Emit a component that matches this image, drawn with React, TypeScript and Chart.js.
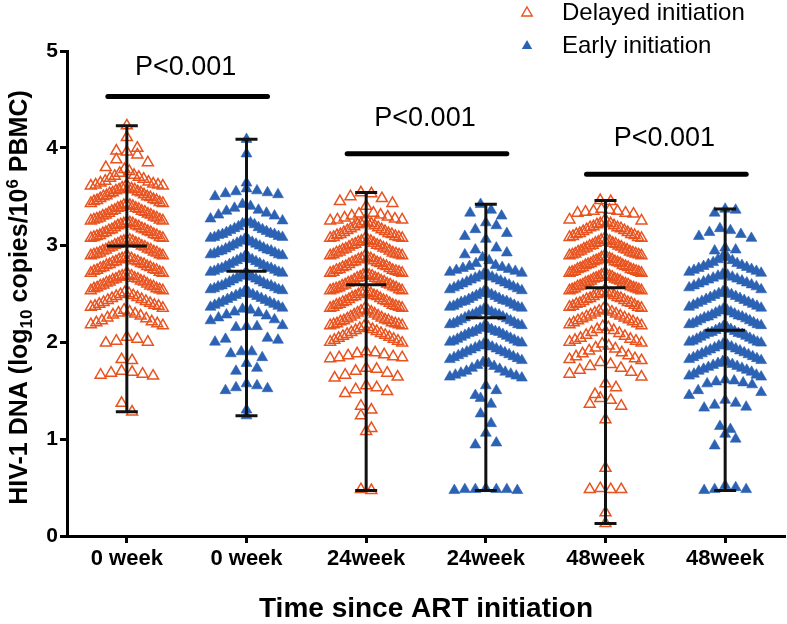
import { useEffect, useRef } from 'react';
import { Chart, registerables } from 'chart.js';

Chart.register(...registerables);

// ---------------- data ----------------
const CATEGORIES = ['0 week', '0 week', '24week', '24week', '48week', '48week'];
const SERIES_NAMES = ['Delayed initiation', 'Early initiation'];
const GROUP_SERIES = [0, 1, 0, 1, 0, 1];
const X_TITLE = 'Time since ART initiation';

const delayed0w = [
  4.23, 4.11, 4.00, 3.97, 3.96, 3.93, 3.88, 3.85, 3.80, 3.78, 3.76,
  3.74, 3.72, 3.71, 3.70, 3.69, 3.68, 3.66, 3.65, 3.64, 3.63, 3.62, 3.62, 3.61, 3.61,
  3.60, 3.59, 3.59, 3.58, 3.57, 3.57, 3.56, 3.55, 3.54, 3.54, 3.53, 3.52, 3.51, 3.50, 3.50, 3.49, 3.48, 3.47, 3.46, 3.46, 3.45, 3.44, 3.43, 3.43,
  3.42, 3.41, 3.41, 3.40, 3.39, 3.38, 3.38, 3.37, 3.36, 3.35, 3.35, 3.34, 3.33, 3.32, 3.31, 3.31, 3.30, 3.29, 3.28, 3.28, 3.27, 3.26, 3.26, 3.25, 3.25,
  3.24, 3.23, 3.22, 3.22, 3.21, 3.20, 3.20, 3.19, 3.18, 3.17, 3.16, 3.16, 3.15, 3.14, 3.13, 3.13, 3.12, 3.11, 3.10, 3.10, 3.09, 3.08, 3.08, 3.07, 3.07,
  3.05, 3.05, 3.04, 3.04, 3.03, 3.02, 3.01, 3.01, 3.00, 2.99, 2.98, 2.98, 2.97, 2.96, 2.95, 2.95, 2.94, 2.93, 2.92, 2.92, 2.91, 2.90, 2.90, 2.89, 2.89,
  2.87, 2.87, 2.86, 2.86, 2.85, 2.84, 2.83, 2.83, 2.82, 2.81, 2.80, 2.80, 2.79, 2.78, 2.77, 2.77, 2.76, 2.75, 2.74, 2.74, 2.73, 2.72, 2.71, 2.71,
  2.69, 2.69, 2.68, 2.68, 2.67, 2.66, 2.65, 2.65, 2.64, 2.63, 2.62, 2.62, 2.61, 2.60, 2.59, 2.58, 2.58, 2.57, 2.56, 2.55, 2.55, 2.54, 2.53, 2.53,
  2.51, 2.50, 2.49, 2.48, 2.47, 2.46, 2.45, 2.44, 2.43, 2.42, 2.41, 2.40, 2.39, 2.38, 2.37, 2.37, 2.36, 2.35,
  2.33, 2.31, 2.30, 2.29, 2.28, 2.27, 2.25, 2.24, 2.22, 2.21, 2.20, 2.19, 2.18, 2.17,
  2.05, 2.03, 2.01, 2.00, 1.99,
  1.82, 1.81,
  1.70, 1.69, 1.68, 1.67, 1.66, 1.65,
  1.37, 1.28,
];

const early0w = [
  4.09, 3.94, 3.64, 3.58, 3.56, 3.55, 3.54, 3.53, 3.52, 3.50,
  3.42, 3.40, 3.38, 3.36, 3.35, 3.33, 3.31, 3.30, 3.27, 3.25,
  3.24, 3.23, 3.22, 3.21, 3.19, 3.18, 3.17, 3.16, 3.15, 3.14, 3.13, 3.12, 3.11, 3.11, 3.10, 3.09, 3.08, 3.08, 3.07,
  3.06, 3.05, 3.04, 3.03, 3.02, 3.01, 3.00, 2.99, 2.98, 2.97, 2.96, 2.95, 2.94, 2.94, 2.93, 2.92, 2.91, 2.90, 2.90, 2.89,
  2.88, 2.87, 2.86, 2.85, 2.84, 2.83, 2.82, 2.81, 2.80, 2.79, 2.78, 2.77, 2.76, 2.76, 2.75, 2.74, 2.73, 2.72, 2.72, 2.71,
  2.70, 2.69, 2.68, 2.67, 2.66, 2.65, 2.64, 2.63, 2.62, 2.61, 2.60, 2.59, 2.58, 2.58, 2.57, 2.56, 2.55, 2.54, 2.54, 2.53,
  2.52, 2.51, 2.50, 2.49, 2.48, 2.47, 2.46, 2.45, 2.44, 2.43, 2.42, 2.41, 2.40, 2.39, 2.38, 2.37, 2.36, 2.35,
  2.34, 2.33, 2.31, 2.30, 2.28, 2.27, 2.25, 2.23, 2.22, 2.17, 2.16, 2.16,
  2.15, 2.04, 2.03, 2.02, 2.00,
  1.90, 1.90, 1.88, 1.84, 1.78, 1.73, 1.70,
  1.57, 1.55, 1.53, 1.52, 1.50,
  1.30, 1.24,
];

const delayed24w = [
  3.54, 3.53, 3.50, 3.48, 3.45, 3.43,
  3.40, 3.33, 3.32, 3.31, 3.30, 3.29, 3.28, 3.27, 3.26, 3.26, 3.25,
  3.24, 3.23, 3.22, 3.22, 3.21, 3.20, 3.19, 3.18, 3.17, 3.16, 3.15, 3.14, 3.13, 3.12, 3.11, 3.11, 3.10, 3.09, 3.08, 3.08, 3.07, 3.07,
  3.06, 3.05, 3.04, 3.04, 3.03, 3.02, 3.01, 3.00, 3.00, 2.99, 2.98, 2.97, 2.96, 2.96, 2.95, 2.94, 2.93, 2.92, 2.92, 2.91, 2.90, 2.90, 2.89, 2.89,
  2.88, 2.87, 2.86, 2.86, 2.85, 2.84, 2.83, 2.82, 2.82, 2.81, 2.80, 2.79, 2.78, 2.78, 2.77, 2.76, 2.75, 2.74, 2.74, 2.73, 2.72, 2.72, 2.71, 2.71,
  2.70, 2.69, 2.69, 2.68, 2.67, 2.66, 2.66, 2.65, 2.64, 2.63, 2.62, 2.62, 2.61, 2.60, 2.59, 2.59, 2.58, 2.57, 2.56, 2.56, 2.55, 2.54, 2.54, 2.53, 2.53,
  2.52, 2.51, 2.51, 2.50, 2.49, 2.48, 2.47, 2.47, 2.46, 2.45, 2.44, 2.43, 2.42, 2.42, 2.41, 2.40, 2.39, 2.38, 2.38, 2.37, 2.36, 2.36, 2.35, 2.35,
  2.34, 2.33, 2.32, 2.31, 2.30, 2.29, 2.28, 2.27, 2.26, 2.25, 2.24, 2.23, 2.22, 2.22, 2.21, 2.20, 2.19, 2.19, 2.18, 2.18, 2.17, 2.17,
  2.16, 2.15, 2.14, 2.13, 2.12, 2.11, 2.10, 2.09, 2.08, 2.07, 2.06, 2.05, 2.04, 2.03, 2.02, 2.01, 2.00, 1.99,
  1.90, 1.89, 1.88, 1.87, 1.86, 1.85, 1.84, 1.84, 1.83,
  1.73, 1.72, 1.70, 1.68, 1.66, 1.64, 1.63,
  1.55, 1.53, 1.51, 1.49, 1.47,
  1.34, 1.30, 1.24,
  1.11, 1.08,
  0.48, 0.47,
];

const early24w = [
  3.42, 3.36, 3.33, 3.30,
  3.23, 3.20, 3.16, 3.12, 3.09, 3.06,
  2.97, 2.95, 2.92, 2.90,
  2.87, 2.84, 2.81, 2.79, 2.78, 2.77, 2.76, 2.75, 2.74, 2.73, 2.72, 2.71,
  2.70, 2.69, 2.68, 2.67, 2.66, 2.65, 2.64, 2.63, 2.62, 2.61, 2.60, 2.59, 2.58, 2.57, 2.56, 2.55, 2.54, 2.53,
  2.52, 2.51, 2.50, 2.49, 2.48, 2.47, 2.46, 2.45, 2.44, 2.43, 2.42, 2.42, 2.41, 2.40, 2.39, 2.38, 2.37, 2.36, 2.36, 2.35,
  2.34, 2.33, 2.32, 2.31, 2.30, 2.29, 2.28, 2.28, 2.27, 2.26, 2.25, 2.24, 2.23, 2.22, 2.21, 2.20, 2.19, 2.18, 2.18, 2.17,
  2.16, 2.15, 2.14, 2.13, 2.12, 2.11, 2.10, 2.10, 2.09, 2.08, 2.07, 2.06, 2.05, 2.04, 2.03, 2.02, 2.01, 2.00, 2.00, 1.99,
  1.98, 1.97, 1.96, 1.95, 1.94, 1.93, 1.92, 1.91, 1.90, 1.89, 1.88, 1.87, 1.86, 1.85, 1.84, 1.83, 1.82, 1.81,
  1.79, 1.78, 1.76, 1.75, 1.73, 1.72, 1.70, 1.69, 1.68, 1.67, 1.66, 1.65, 1.64, 1.63,
  1.55, 1.50, 1.45, 1.42, 1.36, 1.26, 1.16, 1.06, 0.96, 0.94,
  0.49, 0.48, 0.48, 0.48, 0.48, 0.47, 0.47,
];

const delayed48w = [
  3.46, 3.45,
  3.37, 3.36, 3.35, 3.35, 3.34, 3.33, 3.33, 3.32, 3.26, 3.25,
  3.24, 3.23, 3.22, 3.22, 3.21, 3.20, 3.19, 3.18, 3.18, 3.17, 3.16, 3.15, 3.14, 3.13, 3.12, 3.11, 3.11, 3.10, 3.09, 3.08, 3.08, 3.07,
  3.06, 3.05, 3.05, 3.04, 3.03, 3.02, 3.02, 3.01, 3.00, 2.99, 2.99, 2.98, 2.97, 2.96, 2.96, 2.95, 2.94, 2.93, 2.93, 2.92, 2.91, 2.91, 2.90, 2.90, 2.89, 2.89,
  2.88, 2.87, 2.87, 2.86, 2.85, 2.85, 2.84, 2.83, 2.83, 2.82, 2.81, 2.81, 2.80, 2.79, 2.79, 2.78, 2.77, 2.77, 2.76, 2.75, 2.75, 2.74, 2.73, 2.73, 2.72, 2.72, 2.71, 2.71,
  2.70, 2.69, 2.69, 2.68, 2.67, 2.67, 2.66, 2.65, 2.65, 2.64, 2.63, 2.63, 2.62, 2.61, 2.61, 2.60, 2.59, 2.59, 2.58, 2.57, 2.57, 2.56, 2.55, 2.55, 2.54, 2.54, 2.53, 2.53,
  2.52, 2.51, 2.50, 2.50, 2.49, 2.48, 2.47, 2.46, 2.45, 2.45, 2.44, 2.43, 2.42, 2.41, 2.40, 2.40, 2.39, 2.38, 2.37, 2.36, 2.36, 2.35,
  2.34, 2.33, 2.32, 2.31, 2.30, 2.29, 2.28, 2.27, 2.26, 2.25, 2.24, 2.23, 2.22, 2.21, 2.20, 2.19, 2.18, 2.17,
  2.16, 2.15, 2.13, 2.12, 2.10, 2.09, 2.07, 2.06, 2.04, 2.03, 2.02, 2.01, 2.00, 1.99,
  1.98, 1.96, 1.94, 1.93, 1.91, 1.89, 1.88, 1.86, 1.85, 1.83, 1.82, 1.81,
  1.79, 1.77, 1.75, 1.73, 1.71, 1.69, 1.67, 1.64,
  1.57, 1.53, 1.46,
  1.42, 1.40, 1.36, 1.34,
  1.20, 0.70, 0.49, 0.48, 0.48, 0.48, 0.24, 0.13,
];

const early48w = [
  3.37, 3.36, 3.33,
  3.17, 3.15, 3.13, 3.11, 3.09, 3.07,
  2.97, 2.95, 2.94,
  2.88, 2.87, 2.85, 2.84, 2.82, 2.81, 2.80, 2.79, 2.78, 2.77, 2.76, 2.75, 2.74, 2.73, 2.72, 2.71,
  2.70, 2.69, 2.68, 2.67, 2.66, 2.65, 2.64, 2.63, 2.62, 2.61, 2.60, 2.59, 2.58, 2.57, 2.56, 2.54,
  2.52, 2.51, 2.50, 2.49, 2.48, 2.47, 2.46, 2.45, 2.44, 2.43, 2.42, 2.41, 2.40, 2.39, 2.38, 2.37, 2.36, 2.35,
  2.34, 2.33, 2.32, 2.31, 2.30, 2.29, 2.28, 2.27, 2.26, 2.26, 2.25, 2.24, 2.23, 2.22, 2.21, 2.20, 2.19, 2.18, 2.18, 2.17,
  2.16, 2.15, 2.14, 2.13, 2.12, 2.11, 2.10, 2.09, 2.09, 2.08, 2.07, 2.06, 2.05, 2.04, 2.03, 2.02, 2.01, 2.00, 2.00, 1.99,
  1.98, 1.97, 1.96, 1.95, 1.94, 1.93, 1.92, 1.91, 1.90, 1.89, 1.88, 1.87, 1.86, 1.85, 1.84, 1.83, 1.82, 1.81,
  1.80, 1.79, 1.78, 1.77, 1.76, 1.75, 1.74, 1.73, 1.72, 1.71, 1.70, 1.69, 1.67, 1.66, 1.65, 1.64,
  1.61, 1.60, 1.59, 1.58, 1.57, 1.56, 1.50, 1.48, 1.45,
  1.40, 1.37, 1.35, 1.33, 1.32,
  1.13, 1.10, 1.05, 1.00, 0.93,
  0.52, 0.50, 0.48, 0.48, 0.47,
];

const GROUP_VALUES = [delayed0w, early0w, delayed24w, early24w, delayed48w, early48w];
const GROUP_MEANS = [2.99, 2.73, 2.59, 2.25, 2.56, 2.12];

const P_LABELS = ['P<0.001', 'P<0.001', 'P<0.001'];
const P_FROM = [0, 2, 4];
const P_TO = [1, 3, 5];
const P_BAR_Y = [4.53, 3.94, 3.73];
const P_TEXT_Y = [4.83, 4.30, 4.10];

// ---------------- styles ----------------
const W = 787;
const H = 624;
const AREA_LEFT = 67;
const AREA_RIGHT = 785;
const AREA_TOP = 51;
const AREA_BOTTOM = 536;
const PX_PER_CAT = (AREA_RIGHT - AREA_LEFT) / CATEGORIES.length;
const BIN = 0.18;
const HALF = 36;
const SP_MAX = 10.5;
const ORANGE = '#E8531F';
const BLUE = '#2B62B3';
const SERIES_COLORS = [ORANGE, BLUE];
const FONT = "'Liberation Sans', Arial, Helvetica, sans-serif";

function swarm(values: number[], idx: number) {
  const bins = new Map<number, number[]>();
  for (const v of values) {
    const b = Math.ceil(v / BIN - 1e-6);
    if (!bins.has(b)) bins.set(b, []);
    bins.get(b)!.push(v);
  }
  const pts: { x: number; y: number }[] = [];
  bins.forEach((arr) => {
    arr.sort((a, b) => b - a);
    const n = arr.length;
    const sp = n > 1 ? Math.min(SP_MAX, (2 * HALF) / (n - 1)) : 0;
    const shift = n % 2 === 0 ? -0.5 : 0;
    arr.forEach((v, k) => {
      const slot = k === 0 ? 0 : k % 2 === 1 ? (k + 1) / 2 : -k / 2;
      pts.push({ x: idx + ((slot + shift) * sp) / PX_PER_CAT, y: v });
    });
  });
  return pts;
}

function triPath(ctx: CanvasRenderingContext2D, x: number, y: number, r: number) {
  ctx.beginPath();
  for (let i = 0; i < 3; i++) {
    const a = (i * 2 * Math.PI) / 3;
    const px = x + Math.sin(a) * r;
    const py = y - Math.cos(a) * r;
    if (i === 0) ctx.moveTo(px, py);
    else ctx.lineTo(px, py);
  }
  ctx.closePath();
}

const overlayPlugin = {
  id: 'overlay',
  afterDatasetsDraw(chart: any) {
    const ctx: CanvasRenderingContext2D = chart.ctx;
    const xs = chart.scales.x;
    const ys = chart.scales.y;
    ctx.save();
    ctx.strokeStyle = '#111';
    ctx.lineWidth = 3;
    ctx.lineCap = 'butt';
    GROUP_VALUES.forEach((vals, i) => {
      const x = xs.getPixelForValue(i);
      const yMax = ys.getPixelForValue(Math.max(...vals));
      const yMin = ys.getPixelForValue(Math.min(...vals));
      const yMean = ys.getPixelForValue(GROUP_MEANS[i]);
      ctx.beginPath();
      ctx.moveTo(x, yMax);
      ctx.lineTo(x, yMin);
      ctx.moveTo(x - 11, yMax);
      ctx.lineTo(x + 11, yMax);
      ctx.moveTo(x - 11, yMin);
      ctx.lineTo(x + 11, yMin);
      ctx.moveTo(x - 20, yMean);
      ctx.lineTo(x + 20, yMean);
      ctx.stroke();
    });
    ctx.lineWidth = 5;
    ctx.lineCap = 'round';
    ctx.strokeStyle = '#000';
    ctx.fillStyle = '#000';
    ctx.font = `27px ${FONT}`;
    ctx.textAlign = 'center';
    ctx.textBaseline = 'middle';
    P_LABELS.forEach((lab, k) => {
      const x1 = xs.getPixelForValue(P_FROM[k]) - 19;
      const x2 = xs.getPixelForValue(P_TO[k]) + 21;
      const y = ys.getPixelForValue(P_BAR_Y[k]);
      ctx.beginPath();
      ctx.moveTo(x1, y);
      ctx.lineTo(x2, y);
      ctx.stroke();
      ctx.fillText(lab, (x1 + x2) / 2 - 2, ys.getPixelForValue(P_TEXT_Y[k]));
    });
    ctx.restore();
  },
  afterDraw(chart: any) {
    const ctx: CanvasRenderingContext2D = chart.ctx;
    const area = chart.chartArea;
    ctx.save();
    ctx.font = `24px ${FONT}`;
    ctx.textAlign = 'left';
    ctx.textBaseline = 'alphabetic';
    SERIES_NAMES.forEach((name, s) => {
      const cy = 12 + s * 33;
      triPath(ctx, 527, cy + 1, 6);
      if (s === 0) {
        ctx.strokeStyle = ORANGE;
        ctx.lineWidth = 1.4;
        ctx.stroke();
      } else {
        ctx.fillStyle = BLUE;
        ctx.fill();
      }
      ctx.fillStyle = '#000';
      ctx.fillText(name, 562, cy + 8);
    });
    ctx.font = `bold 28px ${FONT}`;
    ctx.textAlign = 'center';
    ctx.fillText(X_TITLE, (area.left + area.right) / 2, 617);
    const segs = [
      { t: 'HIV-1 DNA (log', k: 0 },
      { t: '10', k: -1 },
      { t: ' copies/10', k: 0 },
      { t: '6', k: 1 },
      { t: ' PBMC)', k: 0 },
    ];
    const big = `bold 25px ${FONT}`;
    const small = `bold 17px ${FONT}`;
    let total = 0;
    const widths = segs.map((sg) => {
      ctx.font = sg.k === 0 ? big : small;
      const w = ctx.measureText(sg.t).width;
      total += w;
      return w;
    });
    ctx.translate(27, (area.top + area.bottom) / 2 + 4);
    ctx.rotate(-Math.PI / 2);
    ctx.textAlign = 'left';
    let cx = -total / 2;
    segs.forEach((sg, i) => {
      ctx.font = sg.k === 0 ? big : small;
      const dy = sg.k === -1 ? 5 : sg.k === 1 ? -9 : 0;
      ctx.fillText(sg.t, cx, dy);
      cx += widths[i];
    });
    ctx.restore();
  },
};

export default function App() {
  const ref = useRef<HTMLCanvasElement | null>(null);
  useEffect(() => {
    if (!ref.current) return;
    const datasets = GROUP_VALUES.map((vals, i) => {
      const s = GROUP_SERIES[i];
      return {
        label: SERIES_NAMES[s],
        data: swarm(vals, i),
        pointStyle: 'triangle' as const,
        pointRadius: 6.3,
        pointHoverRadius: 6.3,
        borderWidth: s === 0 ? 1.5 : 0.6,
        pointBorderWidth: s === 0 ? 1.5 : 0.6,
        borderColor: SERIES_COLORS[s],
        pointBorderColor: SERIES_COLORS[s],
        backgroundColor: s === 0 ? 'rgba(0,0,0,0)' : BLUE,
        pointBackgroundColor: s === 0 ? 'rgba(0,0,0,0)' : BLUE,
        showLine: false,
      };
    });
    const chart = new Chart(ref.current, {
      type: 'scatter',
      data: { datasets },
      options: {
        animation: false,
        responsive: false,
        maintainAspectRatio: false,
        events: [],
        layout: {
          autoPadding: false,
          padding: { left: 0, top: AREA_TOP, right: W - AREA_RIGHT, bottom: 0 },
        },
        plugins: { legend: { display: false }, tooltip: { enabled: false } },
        scales: {
          x: {
            type: 'linear',
            min: -0.5,
            max: CATEGORIES.length - 0.5,
            afterBuildTicks: (s: any) => {
              s.ticks = CATEGORIES.map((_, i) => ({ value: i }));
            },
            afterFit: (s: any) => {
              s.height = H - AREA_BOTTOM;
              s.paddingLeft = 0;
              s.paddingRight = 0;
            },
            grid: { drawOnChartArea: false, drawTicks: true, tickLength: 7, tickWidth: 3, tickColor: '#000' },
            border: { display: true, color: '#000', width: 3 },
            ticks: {
              autoSkip: false,
              maxRotation: 0,
              minRotation: 0,
              padding: 3,
              color: '#000',
              font: { family: FONT, size: 22, weight: 'bold' },
              callback: (v: any) => {
                const n = Math.round(Number(v));
                return CATEGORIES[n] !== undefined ? CATEGORIES[n] : '';
              },
            },
          },
          y: {
            type: 'linear',
            min: 0,
            max: 5,
            afterFit: (s: any) => {
              s.width = AREA_LEFT;
              s.paddingTop = 0;
              s.paddingBottom = 0;
            },
            grid: { drawOnChartArea: false, drawTicks: true, tickLength: 7, tickWidth: 3, tickColor: '#000' },
            border: { display: true, color: '#000', width: 3 },
            ticks: {
              stepSize: 1,
              padding: 2,
              color: '#000',
              font: { family: FONT, size: 21, weight: 'bold' },
            },
          },
        },
      },
      plugins: [overlayPlugin],
    });
    return () => chart.destroy();
  }, []);
  return (
    <div style={{ position: 'fixed', left: 0, top: 0, width: W, height: H, background: '#fff' }}>
      <canvas ref={ref} width={W} height={H} style={{ width: W, height: H, display: 'block' }} />
    </div>
  );
}
